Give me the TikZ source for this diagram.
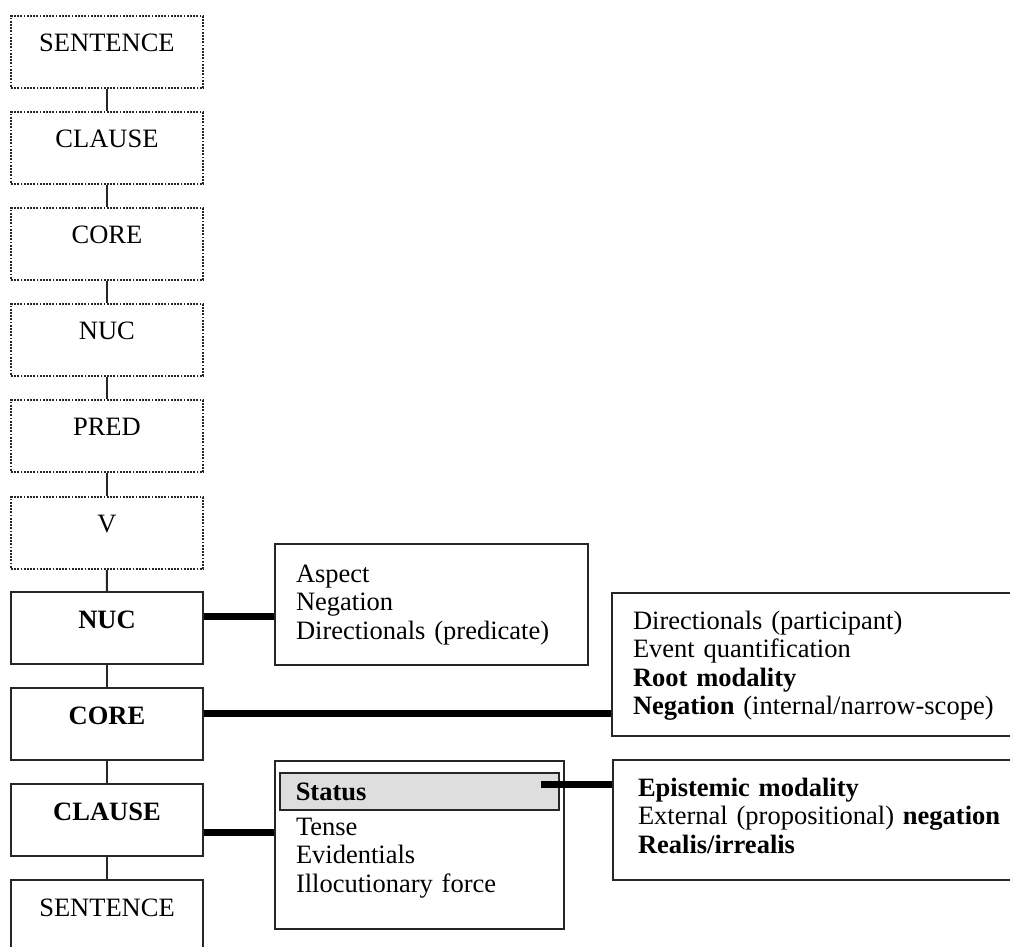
\documentclass[tikz,border=0pt]{standalone}
\usepackage{fontspec}
\setmainfont{Liberation Serif}
\begin{document}
\begin{tikzpicture}[x=1pt,y=-1pt,
  base/.style={font=\fontsize{26.5pt}{28.5pt}\selectfont, inner ysep=0pt},
  lvl/.style={base, anchor=north west, minimum width=192pt, minimum height=72pt,
    text height=36pt, text depth=36pt, inner xsep=0pt},
  dotbox/.style={lvl, draw=black!85, line width=1.9pt, dash pattern=on 1.8pt off 1.4pt},
  solidbox/.style={lvl, draw=black!85, line width=2pt},
  opbox/.style={base, anchor=north west, draw=black!85, line width=2pt, align=left},
  link/.style={draw=black!85, line width=2pt},
  bar/.style={draw=black, line width=7pt},
]
\useasboundingbox (0,0) rectangle (1010,947);
\clip (0,0) rectangle (1010,947);

% left column
\node[dotbox] (d1) at (10,15) {SENTENCE};
\node[dotbox] (d2) at (10,111) {CLAUSE};
\node[dotbox] (d3) at (10,207) {CORE};
\node[dotbox] (d4) at (10,303) {NUC};
\node[dotbox] (d5) at (10,399) {PRED};
\node[dotbox] (d6) at (10,496) {V};
\node[solidbox] (s1) at (10,591) {\textbf{NUC}};
\node[solidbox] (s2) at (10,687) {\textbf{CORE}};
\node[solidbox] (s3) at (10,783) {\textbf{CLAUSE}};
\node[solidbox] (s4) at (10,879) {SENTENCE};

\draw[link] (d1.south) -- (d2.north);
\draw[link] (d2.south) -- (d3.north);
\draw[link] (d3.south) -- (d4.north);
\draw[link] (d4.south) -- (d5.north);
\draw[link] (d5.south) -- (d6.north);
\draw[link] (d6.south) -- (s1.north);
\draw[link] (s1.south) -- (s2.north);
\draw[link] (s2.south) -- (s3.north);
\draw[link] (s3.south) -- (s4.north);

% operator boxes
\node[opbox, inner xsep=21pt, text width=271pt, text height=38pt, text depth=83pt]
  (aspect) at (274,543) {Aspect\\Negation\\Directionals (predicate)};
\node[opbox, inner xsep=21pt, text width=400pt, text height=36pt, text depth=107pt]
  (corer) at (611,592) {Directionals (participant)\\Event quantification\\\textbf{Root modality}\\\textbf{Negation} (internal/narrow-scope)};
\node[opbox, inner xsep=21pt, text width=247pt, text height=74pt, text depth=94pt]
  (clauser) at (274,760) {Tense\\Evidentials\\Illocutionary force};
\node[opbox, fill=black!13, line width=1.5pt, inner xsep=16pt, text width=247pt, text height=28pt, text depth=9pt]
  (status) at (279,772) {\textbf{Status}};
\node[opbox, inner xsep=25pt, text width=400pt, text height=36pt, text depth=84pt]
  (epist) at (612,759) {\textbf{Epistemic modality}\\External (propositional) \textbf{negation}\\\textbf{Realis/irrealis}};

% thick connectors
\coordinate (sx) at ([xshift=-19pt]status.east);
\draw[bar] (s1.east |- 0,616) -- (aspect.west |- 0,616);
\draw[bar] (s2.east |- 0,713) -- (corer.west |- 0,713);
\draw[bar] (s3.east |- 0,832) -- (clauser.west |- 0,832);
\draw[bar] (sx |- 0,784) -- (epist.west |- 0,784);
\end{tikzpicture}
\end{document}
